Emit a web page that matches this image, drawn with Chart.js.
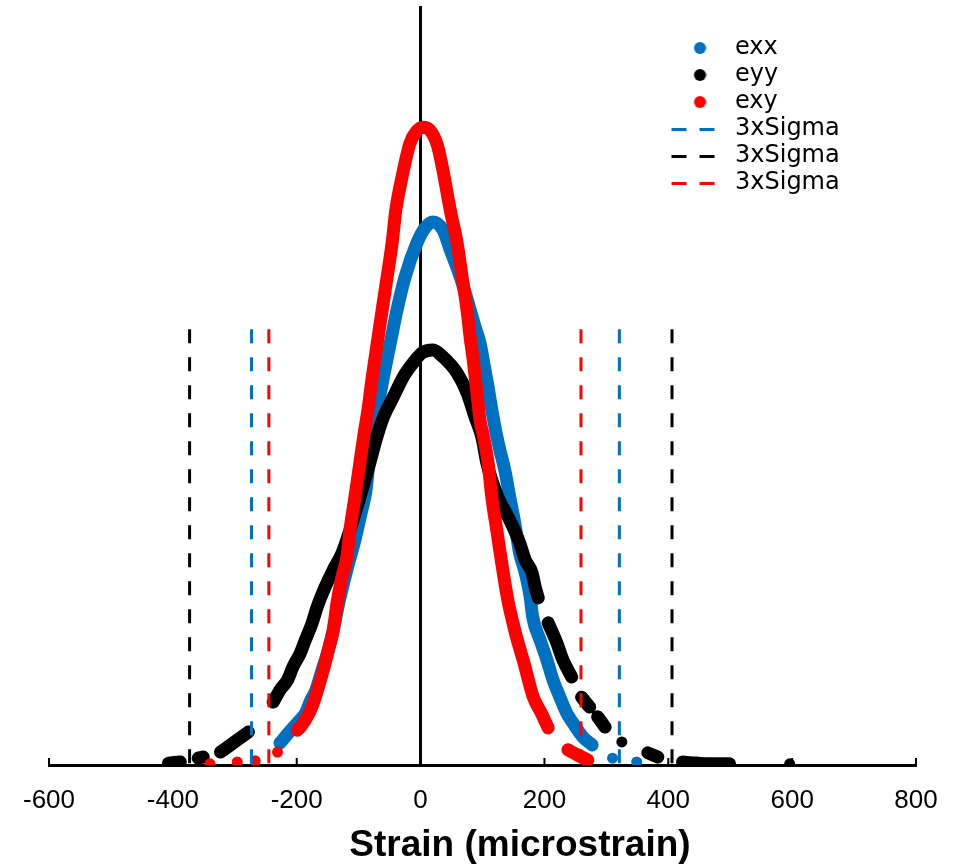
<!DOCTYPE html>
<html>
<head>
<meta charset="utf-8">
<script src="https://cdn.jsdelivr.net/npm/chart.js@4.4.1/dist/chart.umd.min.js"></script>
<style>
  body { margin: 0; overflow: hidden; background: #fff; }
</style>
</head>
<body>
<canvas id="myChart" width="964" height="866"></canvas>
<script>
// strain values (microstrain) vs. frequency; null = gap between dots
const exxPts = [
  [-227, 5.8], [-212, 8.7], [-199, 11.1], [-186, 13.7], [-177, 17.2], [-169, 19.8], [-159, 25.1],
  [-149, 30.3], [-141, 35.6], [-131, 43.5], [-119, 51.5], [-106, 59.4], [-96, 66.5], [-88, 72.6],
  [-83, 80.5], [-78, 87.1], [-70, 93.7], [-60, 102.4], [-49, 111.3], [-38, 120.1], [-25, 128.8],
  [-6, 137.7], [7, 141.7], [20, 143.3], [36, 141.2], [48, 135.9], [64, 128.8], [77, 121.9],
  [88, 115.6], [96, 111.3], [104, 104.2], [109, 99.7], [115, 93.7], [122, 87.6], [128, 83.1],
  [136, 77.8], [144, 70.7], [152, 63.9], [160, 55.9], [169, 50.7], [177, 44.3], [181, 39.1],
  [193, 33.0], [204, 27.7], [214, 22.4], [225, 17.9], [236, 13.7], [246, 11.1], [262, 7.4], [277, 5.3],
  null, [310, 1.8], null, [349, 0.8], null, [423, 0]
];
const eyyPts = [
  [-407, 0.5], [-388, 0.8], null, [-359, 1.8], [-351, 2.1], null, [-323, 3.4], [-307, 5.3],
  [-296, 6.6], [-278, 8.7], null,
  [-238, 16.6], [-227, 19.8], [-215, 22.4], [-206, 25.9], [-194, 29.6], [-186, 33.0], [-175, 37.5],
  [-167, 41.7], [-154, 47.0], [-141, 51.5], [-127, 55.9], [-114, 62.0], [-98, 70.7], [-82, 79.7],
  [-72, 85.8], [-60, 91.8], [-44, 97.1], [-28, 102.4], [-12, 106.1], [2, 108.7], [20, 109.5],
  [36, 107.7], [59, 103.4], [75, 98.2], [88, 91.8], [99, 86.5], [107, 79.7], [125, 70.7],
  [144, 64.6], [160, 58.6], [169, 54.1], [180, 50.7], [185, 47.0], [190, 44.1], null,
  [206, 37.5], [220, 32.2], [230, 27.7], [244, 23.2], null, [260, 17.9], [273, 15.3], null,
  [286, 12.7], [298, 10.0], null, [325, 6.1], null, [367, 3.2], [383, 2.1], null,
  [423, 0.8], [446, 0.5], [467, 0.3], [480, 0.3], [499, 0.3], null, [596, 0.3]
];
const exyPts = [
  [-340, 0.3], null, [-296, 0.8], null, [-267, 1.1], null, [-231, 3.4], null,
  [-199, 9.2], [-194, 10.0], [-180, 13.7], [-173, 16.4], [-165, 20.6], [-157, 25.1], [-149, 30.3],
  [-141, 35.6], [-135, 42.7], [-127, 49.6], [-119, 54.9], [-114, 62.0], [-106, 70.7], [-98, 79.7],
  [-91, 87.6], [-85, 93.7], [-78, 102.4], [-70, 111.3], [-62, 120.1], [-54, 128.8], [-46, 137.7],
  [-40, 146.4], [-30, 155.1], [-17, 164.1], [-6, 167.3], [4, 168.3], [15, 167.5], [27, 163.6],
  [36, 157.0], [48, 146.4], [59, 137.7], [67, 128.8], [75, 120.1], [80, 112.9], [85, 106.9],
  [91, 98.2], [96, 91.0], [101, 87.1], [109, 79.7], [115, 70.7], [123, 62.0], [131, 53.3],
  [140, 44.3], [152, 35.6], [167, 26.9], [182, 17.9], [195, 13.7], [206, 9.8],
  null, [238, 4.0], [254, 2.6], [270, 1.3]
];

// 3 x sigma limits (left, right)
const exxSigma = [-273, 321];
const eyySigma = [-373, 406];
const exySigma = [-245, 259];
const sigmaTop = 115;

const xTicks = { min: -600, max: 800, step: 200 };

const BLUE = '#0070C0', BLACK = '#000000', RED = '#FF0000';
const SANS = "'Liberation Sans', Arial, sans-serif";

function toPoints(arr) {
  let lastX = 0;
  return arr.map(p => {
    if (p === null) return { x: lastX, y: null };
    lastX = p[0];
    return { x: p[0], y: p[1] };
  });
}

function dotMarker(color) {
  const c = document.createElement('canvas');
  c.width = 20; c.height = 14;
  const g = c.getContext('2d');
  g.fillStyle = color;
  g.beginPath(); g.arc(13.5, 7, 6, 0, Math.PI * 2); g.fill();
  return c;
}
function dashMarker(color) {
  const c = document.createElement('canvas');
  c.width = 52; c.height = 3;
  const g = c.getContext('2d');
  g.fillStyle = color;
  g.fillRect(1, 0, 15, 3);
  g.fillRect(29, 0, 15, 3);
  return c;
}

function scatterSet(label, pts, color, order) {
  return {
    label: label, data: toPoints(pts), showLine: true, spanGaps: false,
    borderColor: color, backgroundColor: color, borderWidth: 13,
    borderCapStyle: 'round', borderJoinStyle: 'round', cubicInterpolationMode: 'monotone',
    pointRadius: 5.5, pointHoverRadius: 5.5, pointBorderWidth: 0, order: order
  };
}
function sigmaSet(xs, color) {
  return {
    label: '3xSigma',
    data: [{ x: xs[0], y: sigmaTop }, { x: xs[0], y: 0 }, { x: xs[0], y: null },
           { x: xs[1], y: sigmaTop }, { x: xs[1], y: 0 }],
    showLine: true, spanGaps: false, borderColor: color, backgroundColor: color,
    borderWidth: 3, borderDash: [14, 14], tension: 0, pointRadius: 0, pointHoverRadius: 0, order: 0
  };
}

const legendMarkers = [dotMarker(BLUE), dotMarker(BLACK), dotMarker(RED),
                       dashMarker(BLUE), dashMarker(BLACK), dashMarker(RED)];

// small ticks on the inside of the x axis
const innerTicks = {
  id: 'innerTicks',
  beforeDatasetsDraw(chart) {
    const { ctx, chartArea, scales } = chart;
    ctx.save();
    ctx.strokeStyle = '#000';
    ctx.lineWidth = 2;
    scales.x.ticks.forEach(t => {
      const px = scales.x.getPixelForValue(t.value);
      ctx.beginPath();
      ctx.moveTo(px, chartArea.bottom);
      ctx.lineTo(px, chartArea.bottom - 7);
      ctx.stroke();
    });
    ctx.restore();
  }
};

// legend goes in the upper right of the plot, axis title sits a bit right of centre
const placeBoxes = {
  id: 'placeBoxes',
  afterLayout(chart) {
    const lg = chart.legend;
    const w = lg.width, h = lg.height;
    lg.left = 667; lg.top = 33;
    lg.right = lg.left + w; lg.bottom = lg.top + h;
    const tb = chart.titleBlock;
    tb.left += 38; tb.right += 38;
  }
};

const ctx = document.getElementById('myChart').getContext('2d');
const chart = new Chart(ctx, {
  type: 'scatter',
  data: {
    datasets: [
      scatterSet('exx', exxPts, BLUE, 3),
      scatterSet('eyy', eyyPts, BLACK, 2),
      scatterSet('exy', exyPts, RED, 1),
      sigmaSet(exxSigma, BLUE),
      sigmaSet(eyySigma, BLACK),
      sigmaSet(exySigma, RED)
    ]
  },
  options: {
    responsive: false,
    animation: false,
    layout: { padding: { left: 48, right: 48, top: 7, bottom: 2 } },
    scales: {
      x: {
        type: 'linear', min: xTicks.min, max: xTicks.max,
        grid: { display: false, drawTicks: false },
        border: { display: true, color: '#000', width: 3 },
        ticks: {
          stepSize: xTicks.step, color: '#000', padding: 23, maxRotation: 0,
          font: { family: SANS, size: 26, lineHeight: 1 }
        },
        afterFit: s => { s.height = 62; }
      },
      y: {
        type: 'linear', min: 0, max: 200, position: { x: 0 },
        grid: { display: false, drawTicks: false },
        border: { display: true, color: '#000', width: 3 },
        ticks: { display: false }
      }
    },
    plugins: {
      tooltip: { enabled: false },
      title: {
        display: true, position: 'bottom', text: 'Strain (microstrain)', color: '#000',
        font: { family: SANS, size: 37, weight: 'bold', lineHeight: 1 },
        padding: { top: 0, bottom: 0 }
      },
      legend: {
        position: 'chartArea', align: 'start',
        labels: {
          usePointStyle: true, pointStyleWidth: 53, padding: 3, color: '#000',
          font: { family: "'DejaVu Sans', sans-serif", size: 24 },
          generateLabels: c => c.data.datasets.map((ds, i) => ({
            text: ds.label, datasetIndex: i, hidden: false,
            pointStyle: legendMarkers[i], fillStyle: ds.borderColor,
            strokeStyle: ds.borderColor, lineWidth: 0, fontColor: '#000'
          }))
        }
      }
    }
  },
  plugins: [innerTicks, placeBoxes]
});
</script>
</body>
</html>
